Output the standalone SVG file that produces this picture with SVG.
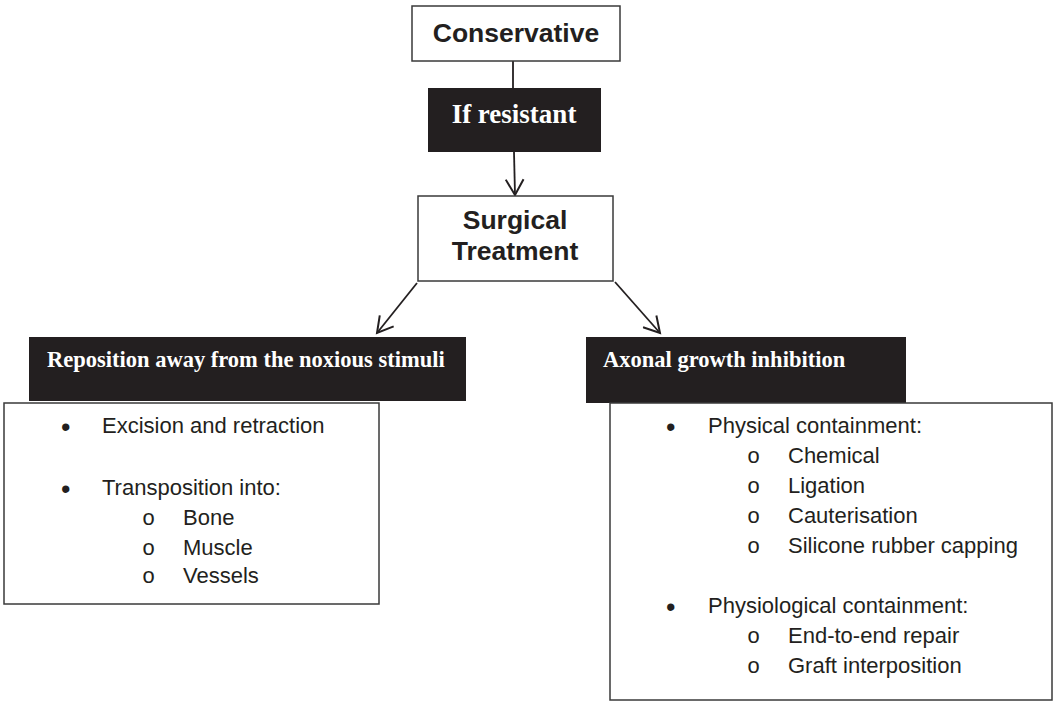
<svg xmlns="http://www.w3.org/2000/svg" width="1056" height="703" viewBox="0 0 1056 703">
<style>
.box{fill:#fff;stroke:#3a3a3a;stroke-width:1.5}
.dark{fill:#231f20}
.h{font-family:"Liberation Sans",Arial,sans-serif;font-weight:bold;font-size:26.5px;fill:#231f20;text-anchor:middle}
.hw{font-family:"Liberation Serif","Times New Roman",serif;font-weight:bold;fill:#fff}
.t{font-family:"Liberation Sans",Arial,sans-serif;font-size:22px;fill:#231f20}
.b{font-family:"Liberation Sans",Arial,sans-serif;font-size:27px;fill:#231f20}
.o{font-family:"Liberation Mono","Courier New",monospace;font-size:22px;fill:#231f20}
.c{stroke:#231f20;stroke-width:1.8;fill:none}
</style>
<defs>
<marker id="arr" markerUnits="userSpaceOnUse" markerWidth="20" markerHeight="20" refX="15" refY="9" orient="auto" viewBox="0 0 18 18">
<path d="M1,1 L15,9 L1,17" fill="none" stroke="#231f20" stroke-width="1.8"/>
</marker>
</defs>
<rect width="1056" height="703" fill="#fff"/>
<g id="connectors">
<line class="c" x1="513" y1="61" x2="513" y2="88"/>
<line class="c" x1="514" y1="152" x2="515" y2="195" marker-end="url(#arr)"/>
<line class="c" x1="417" y1="283" x2="377" y2="333" marker-end="url(#arr)"/>
<line class="c" x1="615" y1="282" x2="660" y2="333" marker-end="url(#arr)"/>
</g>
<g id="conservative">
<rect class="box" x="412" y="6" width="208" height="55"/>
<text class="h" x="516" y="42">Conservative</text>
</g>
<g id="if-resistant">
<rect class="dark" x="428" y="88" width="173" height="64"/>
<text class="hw" x="514" y="123" font-size="27" text-anchor="middle">If resistant</text>
</g>
<g id="surgical">
<rect class="box" x="418" y="196" width="195" height="85"/>
<text class="h" x="515" y="229">Surgical</text>
<text class="h" x="515" y="260">Treatment</text>
</g>
<g id="reposition">
<rect class="dark" x="29" y="337" width="437" height="64"/>
<text class="hw" x="47" y="367" font-size="22.5">Reposition away from the noxious stimuli</text>
</g>
<g id="reposition-list">
<rect class="box" x="4" y="403" width="375" height="201"/>
<text class="b" x="61" y="436">•</text>
<text class="t" x="102" y="433">Excision and retraction</text>
<text class="b" x="61" y="498">•</text>
<text class="t" x="102" y="495">Transposition into:</text>
<text class="o" x="142" y="525">o</text>
<text class="t" x="183" y="525">Bone</text>
<text class="o" x="142" y="555">o</text>
<text class="t" x="183" y="555">Muscle</text>
<text class="o" x="142" y="583">o</text>
<text class="t" x="183" y="583">Vessels</text>
</g>
<g id="axonal">
<rect class="dark" x="586" y="337" width="320" height="66"/>
<text class="hw" x="603" y="367" font-size="22.5">Axonal growth inhibition</text>
</g>
<g id="axonal-list">
<rect class="box" x="610" y="403" width="442" height="297"/>
<text class="b" x="666" y="436">•</text>
<text class="t" x="708" y="433">Physical containment:</text>
<text class="o" x="747" y="463">o</text>
<text class="t" x="788" y="463">Chemical</text>
<text class="o" x="747" y="493">o</text>
<text class="t" x="788" y="493">Ligation</text>
<text class="o" x="747" y="523">o</text>
<text class="t" x="788" y="523">Cauterisation</text>
<text class="o" x="747" y="553">o</text>
<text class="t" x="788" y="553">Silicone rubber capping</text>
<text class="b" x="666" y="616">•</text>
<text class="t" x="708" y="613">Physiological containment:</text>
<text class="o" x="747" y="643">o</text>
<text class="t" x="788" y="643">End-to-end repair</text>
<text class="o" x="747" y="673">o</text>
<text class="t" x="788" y="673">Graft interposition</text>
</g>
</svg>
